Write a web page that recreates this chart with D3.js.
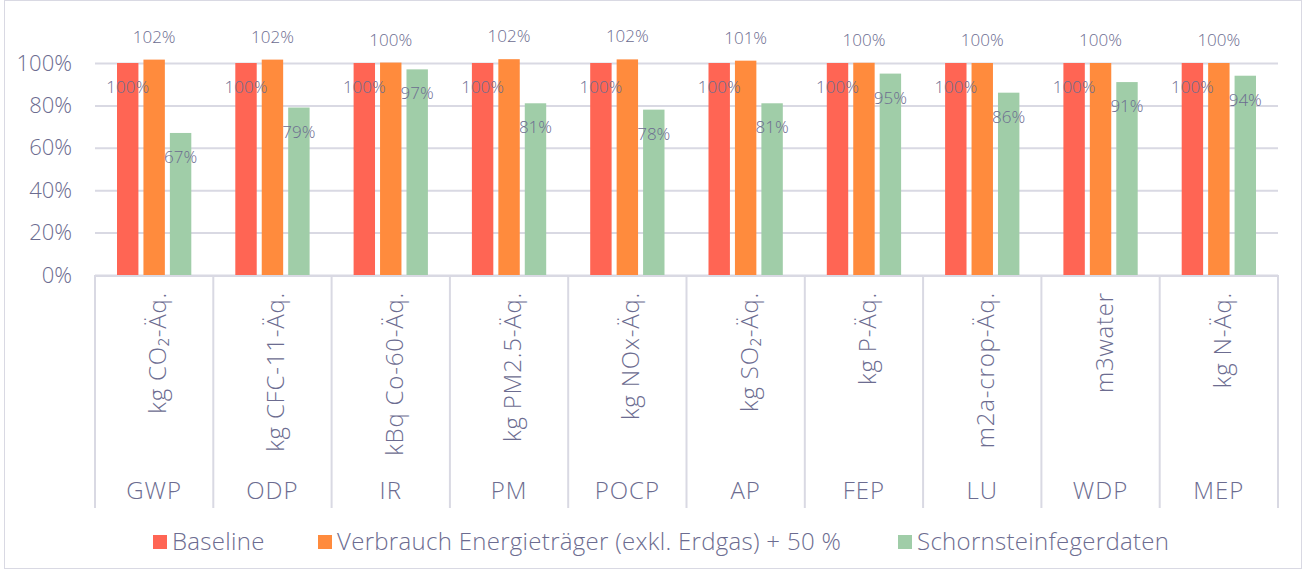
<!DOCTYPE html>
<html>
<head>
<meta charset="utf-8">
<script src="https://cdn.jsdelivr.net/npm/d3@7"></script>
<style>
  body { margin: 0; background: #fff; }
  svg text { font-family: "Open Sans", Lato, sans-serif; font-weight: 300; fill: #6c6c90; }
</style>
</head>
<body>
<svg id="chart" width="1306" height="572"></svg>
<script>
const categories = ['GWP', 'ODP', 'IR', 'PM', 'POCP', 'AP', 'FEP', 'LU', 'WDP', 'MEP'];
const units = ['kg CO₂-Äq.', 'kg CFC-11-Äq.', 'kBq Co-60-Äq.', 'kg PM2.5-Äq.', 'kg NOx-Äq.',
  'kg SO₂-Äq.', 'kg P-Äq.', 'm2a-crop-Äq.', 'm3water', 'kg N-Äq.'];
const seriesNames = ['Baseline', 'Verbrauch Energieträger (exkl. Erdgas) + 50 %', 'Schornsteinfegerdaten'];
const baseline = [1, 1, 1, 1, 1, 1, 1, 1, 1, 1];
const verbrauch = [1.016, 1.016, 1.002, 1.018, 1.017, 1.011, 1.001, 1.0, 1.0, 1.0];
const schornstein = [0.67, 0.79, 0.97, 0.81, 0.78, 0.81, 0.95, 0.86, 0.91, 0.94];
const yTicks = [0, 0.2, 0.4, 0.6, 0.8, 1.0];

const colors = ['#ff6554', '#ff8b3d', '#a0cda8'];
const seriesValues = [baseline, verbrauch, schornstein];

const svg = d3.select('#chart');
const margin = { left: 95, right: 28, top: 63, plotBottom: 275 };
const width = 1306, height = 572;

// outer border
svg.append('rect')
  .attr('x', 4.5).attr('y', 0.5)
  .attr('width', width - 9).attr('height', height - 4)
  .attr('fill', 'none').attr('stroke', '#d9d9e3');

const x = d3.scaleBand()
  .domain(categories)
  .range([margin.left, width - margin.right]);

const xInner = d3.scaleBand()
  .domain(d3.range(3))
  .range([22, x.bandwidth() - 22])
  .paddingInner(0.19);

const y = d3.scaleLinear()
  .domain([0, 1])
  .range([margin.plotBottom, margin.top]);

// grid
const yAxis = d3.axisLeft(y)
  .tickValues(yTicks)
  .tickFormat(d3.format('.0%'))
  .tickSize(-(width - margin.right - margin.left))
  .tickPadding(23);

svg.append('g')
  .attr('transform', `translate(${margin.left},0)`)
  .call(yAxis)
  .call(g => g.select('.domain').remove())
  .call(g => g.selectAll('.tick line').attr('stroke', '#d9d9e3').attr('stroke-width', 2))
  .call(g => g.selectAll('.tick text').attr('font-size', 22).attr('fill', '#6c6c90')
    .style('font-family', '"Open Sans", sans-serif'));

// category axis (two levels)
const axisBottom = 508;
svg.append('line')
  .attr('x1', margin.left).attr('x2', width - margin.right)
  .attr('y1', margin.plotBottom + 1).attr('y2', margin.plotBottom + 1)
  .attr('stroke', '#d9d9e3').attr('stroke-width', 2);

const bounds = categories.map(c => x(c)).concat([x.range()[1]]);
svg.selectAll('.sep').data(bounds).enter().append('line')
  .attr('class', 'sep')
  .attr('x1', d => d).attr('x2', d => d)
  .attr('y1', margin.plotBottom).attr('y2', axisBottom)
  .attr('stroke', '#d9d9e3').attr('stroke-width', 2);

svg.selectAll('.unit').data(units).enter().append('text')
  .attr('class', 'unit')
  .attr('transform', (d, i) => `translate(${x(categories[i]) + x.bandwidth() / 2 + 12},292) rotate(-90)`)
  .attr('text-anchor', 'end')
  .attr('font-size', 24)
  .attr('letter-spacing', 0.8)
  .text(d => d);

svg.selectAll('.cat').data(categories).enter().append('text')
  .attr('class', 'cat')
  .attr('x', d => x(d) + x.bandwidth() / 2)
  .attr('y', 499)
  .attr('text-anchor', 'middle')
  .attr('font-size', 24)
  .attr('letter-spacing', 1)
  .text(d => d);

// bars
const groups = svg.selectAll('.grp').data(categories).enter().append('g')
  .attr('class', 'grp')
  .attr('transform', d => `translate(${x(d)},0)`);

groups.selectAll('rect')
  .data((c, i) => seriesValues.map((s, k) => ({ k, v: s[i] })))
  .enter().append('rect')
  .attr('x', d => xInner(d.k))
  .attr('width', xInner.bandwidth())
  .attr('y', d => y(d.v))
  .attr('height', d => y(0) - y(d.v))
  .attr('fill', d => colors[d.k]);

groups.selectAll('.lbl')
  .data((c, i) => seriesValues.map((s, k) => ({ k, v: s[i] })))
  .enter().append('text')
  .attr('class', 'lbl')
  .attr('x', d => xInner(d.k) + xInner.bandwidth() / 2)
  .attr('y', d => d.k === 1 ? y(d.v) - 17 : y(d.v) + 30)
  .attr('text-anchor', 'middle')
  .attr('font-size', 17)
  .attr('fill', '#6c6c90')
  .text(d => d3.format('.0%')(d.v));

// legend
const legendX = [153, 318, 898];
const legend = svg.selectAll('.leg').data(seriesNames).enter().append('g')
  .attr('class', 'leg')
  .attr('transform', (d, i) => `translate(${legendX[i]},535)`);
legend.append('rect')
  .attr('width', 14).attr('height', 14)
  .attr('fill', (d, i) => colors[i]);
legend.append('text')
  .attr('x', 19).attr('y', 15)
  .attr('font-size', 24)
  .attr('letter-spacing', 0.3)
  .text(d => d);
</script>
</body>
</html>
